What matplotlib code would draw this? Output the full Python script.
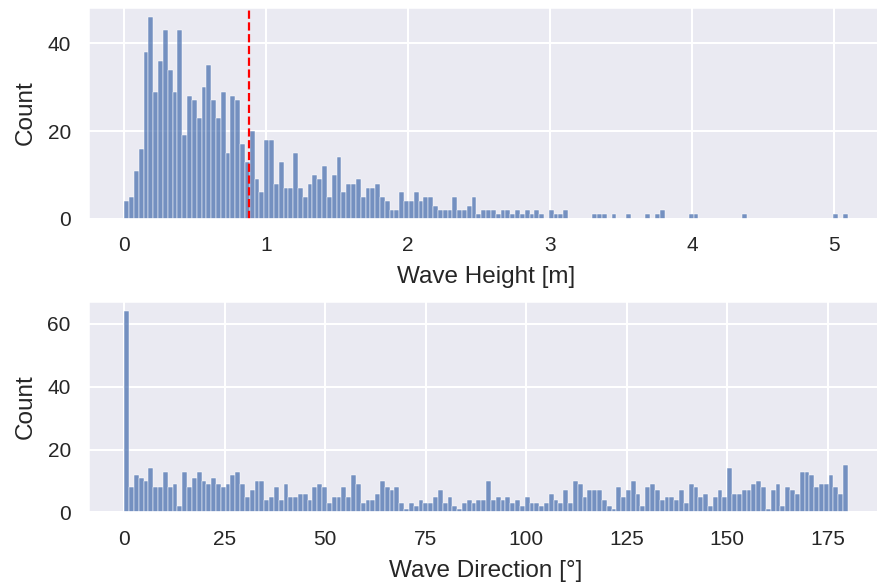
import matplotlib
matplotlib.use('Agg')
import matplotlib.pyplot as plt
import numpy as np
import seaborn as sns

# counts per bin (150 bins each)
height_range = (0.0, 5.1)
height_counts = [
    4, 5, 11, 16, 38, 46, 29, 36, 43, 34, 29, 43, 19, 28, 27, 23, 30, 35, 27, 23,
    29, 15, 28, 27, 17, 13, 20, 9, 6, 18, 18, 8, 13, 7, 7, 15, 7, 5, 8, 10,
    9, 12, 5, 10, 14, 6, 8, 8, 9, 5, 7, 7, 8, 5, 4, 2, 2, 6, 4, 4,
    6, 4, 5, 5, 3, 2, 2, 2, 5, 2, 2, 3, 5, 1, 2, 2, 2, 1, 2, 2,
    1, 2, 1, 2, 1, 2, 1, 0, 2, 1, 1, 2, 0, 0, 0, 0, 0, 1, 1, 1,
    0, 1, 0, 0, 1, 0, 0, 0, 1, 0, 1, 2, 0, 0, 0, 0, 0, 1, 1, 0,
    0, 0, 0, 0, 0, 0, 0, 0, 1, 0, 0, 0, 0, 0, 0, 0, 0, 0, 0, 0,
    0, 0, 0, 0, 0, 0, 0, 1, 0, 1,
]
height_mean = 0.88

direction_range = (0.0, 180.0)
direction_counts = [
    64, 8, 12, 11, 10, 14, 8, 8, 13, 8, 9, 2, 13, 8, 11, 13, 10, 9, 11, 9,
    8, 9, 12, 13, 9, 5, 7, 10, 10, 4, 5, 8, 4, 9, 5, 5, 6, 6, 4, 8,
    9, 8, 3, 5, 5, 8, 5, 12, 9, 3, 4, 4, 6, 10, 8, 7, 8, 3, 1, 3,
    2, 4, 3, 3, 5, 7, 3, 5, 2, 1, 3, 4, 3, 4, 4, 10, 4, 5, 4, 5,
    3, 4, 2, 5, 3, 3, 2, 3, 6, 4, 3, 7, 3, 10, 9, 5, 7, 7, 7, 4,
    2, 1, 8, 5, 7, 10, 6, 2, 8, 9, 7, 4, 5, 5, 4, 7, 3, 9, 8, 5,
    6, 2, 5, 7, 5, 14, 6, 6, 7, 7, 9, 10, 8, 1, 7, 9, 2, 8, 7, 6,
    13, 13, 12, 8, 9, 9, 12, 8, 6, 15,
]

sns.set_theme(context='talk', style='darkgrid')
plt.rcParams['font.family'] = ['Liberation Sans', 'DejaVu Sans']
plt.rcParams['xtick.labelsize'] = 15
plt.rcParams['ytick.labelsize'] = 15
plt.rcParams['axes.labelsize'] = 17.5
plt.rcParams['axes.labelpad'] = 8


def bin_centers(rng, n):
    edges = np.linspace(rng[0], rng[1], n + 1)
    return (edges[:-1] + edges[1:]) / 2


fig = plt.figure(figsize=(8.77, 5.85), dpi=100)
ax1 = fig.add_axes([0.1005, 0.626, 0.9076, 0.362])
ax2 = fig.add_axes([0.1005, 0.124, 0.9076, 0.361])

# wave height
sns.histplot(x=bin_centers(height_range, len(height_counts)), weights=height_counts,
             bins=len(height_counts), binrange=height_range, ax=ax1)
ax1.axvline(height_mean, color='red', linestyle='--', linewidth=1.6)
span = height_range[1] - height_range[0]
ax1.set_xlim(height_range[0] - 0.05 * span, height_range[1] + 0.05 * span)
ax1.set_ylim(0, max(height_counts) * 1.05)
ax1.set_yticks([0, 20, 40])
ax1.set_xlabel('Wave Height [m]')
ax1.set_ylabel('Count')

# wave direction
sns.histplot(x=bin_centers(direction_range, len(direction_counts)), weights=direction_counts,
             bins=len(direction_counts), binrange=direction_range, ax=ax2)
span = direction_range[1] - direction_range[0]
ax2.set_xlim(direction_range[0] - 0.05 * span, direction_range[1] + 0.05 * span)
ax2.set_ylim(0, max(direction_counts) * 1.05)
ax2.set_xticks([0, 25, 50, 75, 100, 125, 150, 175])
ax2.set_yticks([0, 20, 40, 60])
ax2.set_xlabel('Wave Direction [°]')
ax2.set_ylabel('Count')

fig.savefig('out.png', dpi=100)
